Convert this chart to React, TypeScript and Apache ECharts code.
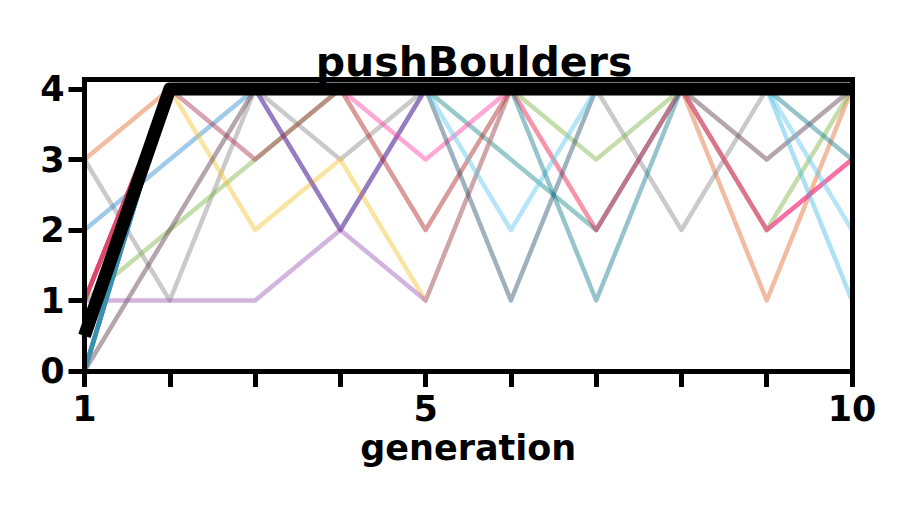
import React, { useEffect, useRef } from "react";
import * as echarts from "echarts";

const generations = [1, 2, 3, 4, 5, 6, 7, 8, 9, 10];
const xTickLabels = [1, 5, 10];
const yTickValues = [0, 1, 2, 3, 4];

const orange = [3, 4, 4, 4, 4, 4, 4, 4, 1, 4];
const gray = [3, 1, 4, 3, 4, 4, 4, 2, 4, 4];
const blue = [2, 3, 4, 2, 4, 4, 4, 4, 4, 4];
const crimson = [1, 4, 4, 4, 4, 4, 2, 4, 2, 3];
const green = [1, 2, 3, 4, 4, 4, 3, 4, 2, 4];
const yellow = [1, 4, 2, 3, 1, 4, 4, 4, 4, 4];
const rose = [1, 4, 3, 4, 4, 4, 4, 4, 4, 4];
const mauve = [0, 2, 4, 4, 4, 4, 4, 4, 3, 4];
const lavender = [1, 1, 1, 2, 1, 4, 4, 4, 4, 4];
const purple = [0, 4, 4, 2, 4, 4, 4, 4, 4, 4];
const darkRed = [1, 4, 4, 4, 2, 4, 4, 4, 4, 4];
const pink = [1, 4, 4, 4, 3, 4, 4, 4, 2, 3];
const darkSlate = [0, 4, 4, 4, 4, 1, 4, 4, 4, 4];
const sky = [0, 4, 4, 4, 4, 2, 4, 4, 4, 2];
const skyLight = [0, 4, 4, 4, 4, 4, 4, 4, 4, 1];
const teal = [0, 4, 4, 4, 4, 3, 2, 4, 4, 4];
const tealDark = [0, 4, 4, 4, 4, 4, 1, 4, 4, 3];
const best = [0.5, 4, 4, 4, 4, 4, 4, 4, 4, 4];

const population: { name: string; values: number[]; color: string }[] = [
  { name: "orange", values: orange, color: "#e36a2e" },
  { name: "gray", values: gray, color: "#8a8a8a" },
  { name: "blue", values: blue, color: "#2a8ad0" },
  { name: "teal", values: teal, color: "#1a8a8a" },
  { name: "crimson", values: crimson, color: "#e8143c" },
  { name: "green", values: green, color: "#7cb342" },
  { name: "yellow", values: yellow, color: "#f4c430" },
  { name: "rose", values: rose, color: "#a83250" },
  { name: "mauve", values: mauve, color: "#5a3a4a" },
  { name: "lavender", values: lavender, color: "#9b59b6" },
  { name: "purple", values: purple, color: "#8a1f8f" },
  { name: "darkRed", values: darkRed, color: "#b22222" },
  { name: "pink", values: pink, color: "#ff3ea5" },
  { name: "darkSlate", values: darkSlate, color: "#2b4f6e" },
  { name: "sky", values: sky, color: "#5bc8f0" },
  { name: "skyLight", values: skyLight, color: "#48bce8" },
  { name: "tealDark", values: tealDark, color: "#167d8f" },
];

const FONT = "DejaVu Sans";

export default function App() {
  const ref = useRef<HTMLDivElement>(null);

  useEffect(() => {
    document.body.style.margin = "0";
    if (!ref.current) return;
    const chart = echarts.init(ref.current, undefined, { renderer: "svg" });

    const toData = (vals: number[]) => generations.map((g, i) => [g, vals[i]]);

    const series: any[] = population.map((p) => ({
      type: "line",
      name: p.name,
      data: toData(p.values),
      symbol: "none",
      lineStyle: { color: p.color, width: 4.5, opacity: 0.45, join: "round" },
      z: 2,
    }));
    series.push({
      type: "line",
      name: "best",
      data: toData(best),
      symbol: "none",
      lineStyle: { color: "#000", width: 13, opacity: 1, join: "round" },
      z: 3,
    });

    const spine = { show: true, lineStyle: { color: "#000", width: 5, cap: "square" } };

    chart.setOption({
      animation: false,
      backgroundColor: "#fff",
      title: {
        text: "pushBoulders",
        left: 469,
        top: 36,
        textAlign: "center",
        textStyle: { fontFamily: FONT, fontWeight: "bold", fontSize: 41, color: "#000" },
      },
      grid: { left: 84.5, right: 62, top: 79.5, bottom: 137, containLabel: false },
      xAxis: [
        {
          type: "value",
          min: 1,
          max: 10,
          interval: 1,
          position: "bottom",
          axisLine: { ...spine, onZero: false },
          axisTick: { show: true, length: 16, lineStyle: { color: "#000", width: 5 } },
          axisLabel: {
            show: true,
            margin: 20,
            fontFamily: FONT,
            fontWeight: "bold",
            fontSize: 35,
            color: "#000",
            customValues: xTickLabels,
            formatter: (v: number) => (xTickLabels.includes(v) ? String(v) : ""),
          },
          splitLine: { show: false },
          name: "generation",
          nameLocation: "middle",
          nameGap: 56,
          nameTextStyle: { fontFamily: FONT, fontWeight: "bold", fontSize: 35, color: "#000" },
          z: 10,
        },
        {
          type: "value",
          min: 1,
          max: 10,
          position: "top",
          axisLine: { ...spine, onZero: false },
          axisTick: { show: false },
          axisLabel: { show: false },
          splitLine: { show: false },
          z: 10,
        },
      ],
      yAxis: [
        {
          type: "value",
          min: 0,
          max: 4.135,
          position: "left",
          axisLine: { ...spine, onZero: false },
          axisTick: { show: true, length: 16, lineStyle: { color: "#000", width: 5 }, customValues: yTickValues },
          axisLabel: {
            show: true,
            margin: 20,
            fontFamily: FONT,
            fontWeight: "bold",
            fontSize: 35,
            color: "#000",
            customValues: yTickValues,
            formatter: (v: number) => String(v),
          },
          splitLine: { show: false },
          z: 10,
        },
        {
          type: "value",
          min: 0,
          max: 4.135,
          position: "right",
          axisLine: { ...spine, onZero: false },
          axisTick: { show: false },
          axisLabel: { show: false },
          splitLine: { show: false },
          z: 10,
        },
      ],
      series,
    });

    return () => chart.dispose();
  }, []);

  return <div ref={ref} style={{ width: 914, height: 508 }} />;
}
